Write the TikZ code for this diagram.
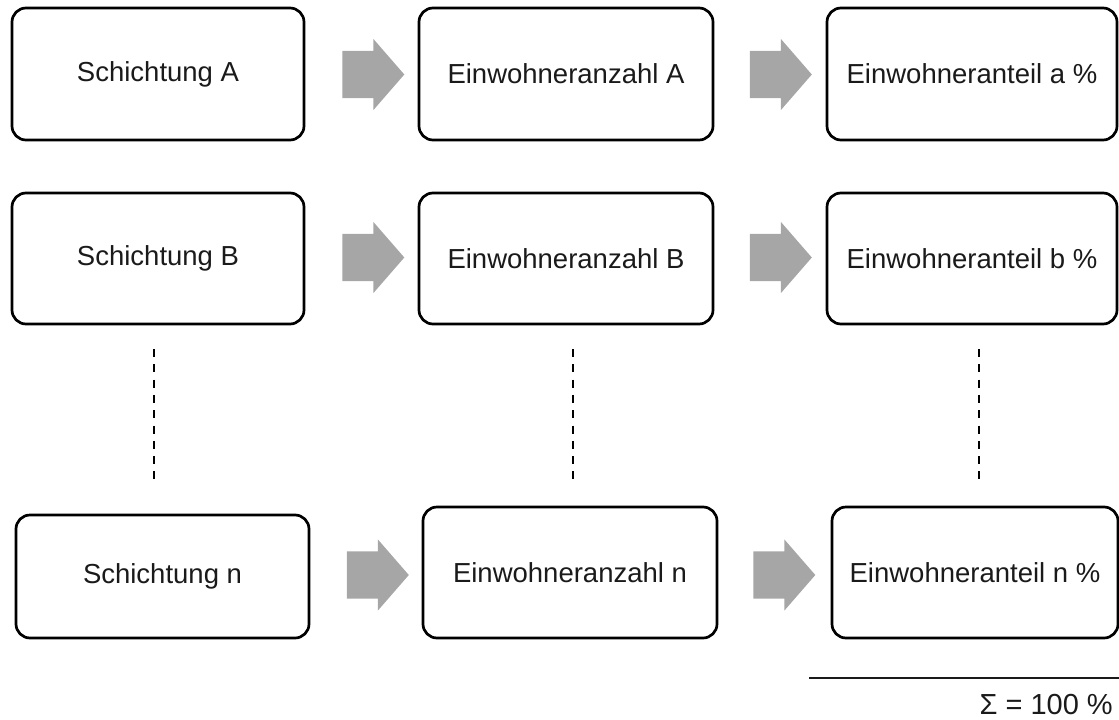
\documentclass[tikz,border=0pt]{standalone}
\usepackage{fontspec}
\setmainfont{Liberation Sans}
\usetikzlibrary{shapes.arrows}
\definecolor{arrowgray}{HTML}{A6A6A6}
\definecolor{txt}{HTML}{1A1A1A}
\tikzset{
  box/.style={draw=black, line width=2.7pt, rounded corners=14pt, fill=white,
    inner sep=0pt, outer sep=0pt, text=txt, font=\fontsize{27.5}{31}\selectfont},
  blockarrow/.style={single arrow, fill=arrowgray, draw=none, inner sep=0pt,
    inner ysep=23.5pt, outer sep=0pt, minimum height=62pt, minimum width=71pt,
    single arrow head extend=12pt, single arrow tip angle=98},
  dots/.style={line width=2pt, dash pattern=on 8pt off 7.3pt},
}
\begin{document}
\begin{tikzpicture}[x=1pt,y=-1pt]
\useasboundingbox (0,0) rectangle (1119,720);
% row 1
\node[box, minimum width=292pt, minimum height=132pt] (r1c1) at (158,74) {Schichtung A};
\node[box, minimum width=294pt, minimum height=132pt] (r1c2) at (566,74) {Einwohneranzahl A};
\node[box, minimum width=290pt, minimum height=132pt] (r1c3) at (972,74) {Einwohneranteil a \%};
\node[blockarrow] (r1a1) at (363,74.5) {};
\node[blockarrow] (r1a2) at (770.5,74.5) {};
% row 2
\node[box, minimum width=292pt, minimum height=131pt] (r2c1) at (158,258.5) {Schichtung B};
\node[box, minimum width=294pt, minimum height=131pt] (r2c2) at (566,258.5) {Einwohneranzahl B};
\node[box, minimum width=290pt, minimum height=131pt] (r2c3) at (972,258.5) {Einwohneranteil b \%};
\node[blockarrow] (r2a1) at (363,257.5) {};
\node[blockarrow] (r2a2) at (770.5,257.5) {};
% row 3
\node[box, minimum width=293pt, minimum height=123pt] (r3c1) at (162.5,576.5) {Schichtung n};
\node[box, minimum width=294pt, minimum height=131pt] (r3c2) at (570,572.5) {Einwohneranzahl n};
\node[box, minimum width=286pt, minimum height=131pt] (r3c3) at (975,572.5) {Einwohneranteil n \%};
\node[blockarrow] (r3a1) at (367.5,575) {};
\node[blockarrow] (r3a2) at (774,575) {};
% dashed continuation lines
\coordinate (d1a) at (154,349); \coordinate (d1b) at (154,482);
\coordinate (d2a) at (573,349); \coordinate (d2b) at (573,482);
\coordinate (d3a) at (979,349); \coordinate (d3b) at (979,482);
\draw[dots] (d1a) -- (d1b);
\draw[dots] (d2a) -- (d2b);
\draw[dots] (d3a) -- (d3b);
% sum line
\coordinate (s1) at (809,678); \coordinate (s2) at (1119,678);
\draw[line width=1.8pt, draw=txt] (s1) -- (s2);
\node[anchor=base east, inner sep=0pt, text=txt, font=\fontsize{29}{32}\selectfont] (sum) at (1113,714) {Σ = 100 \%};
\end{tikzpicture}
\end{document}
